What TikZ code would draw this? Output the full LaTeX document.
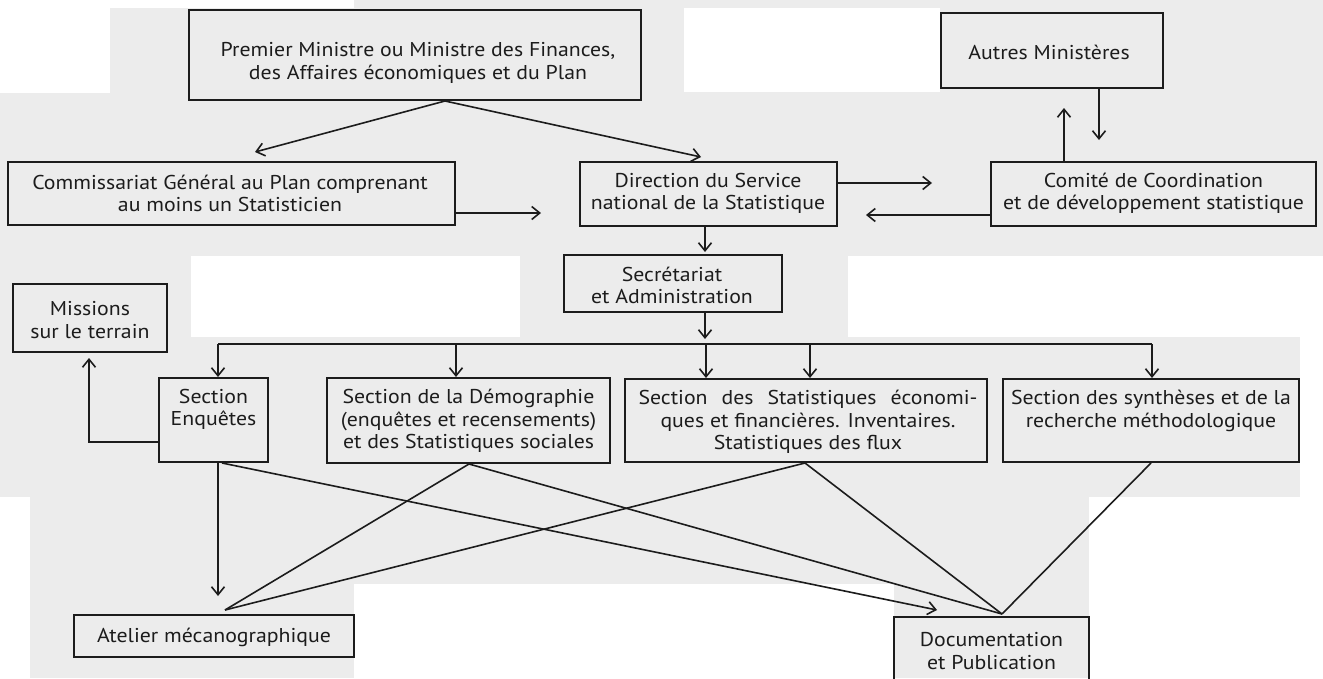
\documentclass[tikz,border=0pt]{standalone}
\usepackage{fontspec}
\setmainfont[FakeStretch=1.09]{PT Sans}
\usetikzlibrary{arrows.meta}
\definecolor{paper}{HTML}{ECECEC}
\definecolor{ink}{HTML}{1C1C1C}
\tikzset{
  box/.style={draw=ink, line width=2pt, inner sep=0pt},
  txt/.style={text=ink, align=center, inner sep=0pt, font=\fontsize{20}{22.5}\selectfont},
  con/.style={draw=ink, line width=1.6pt},
  arr/.style={con, -{Straight Barb[length=8pt,width=13pt,line width=1.6pt]}},
  blank/.style={fill=white, draw=none}
}
\begin{document}
\begin{tikzpicture}[x=1pt,y=-1pt]
\useasboundingbox (0,0) rectangle (1323,678);
% background (scanned paper)
\fill[paper] (0,0) rectangle (1323,678);
\fill[blank] (0,0) rectangle (110,93);
\fill[blank] (0,0) rectangle (354,8);
\fill[blank] (684,8) rectangle (940,92);
\fill[blank] (191,256) rectangle (520,337);
\fill[blank] (848,256) rectangle (1323,337);
\fill[blank] (1300,337) rectangle (1323,497);
\fill[blank] (1089,497) rectangle (1323,678);
\fill[blank] (0,497) rectangle (30,678);
\fill[blank] (354,584) rectangle (894,678);

% boxes
\node[box, minimum width=452pt, minimum height=90pt] (prem) at (415,55) {};
\node[box, minimum width=222pt, minimum height=75pt] (autres) at (1052,50.5) {};
\node[box, minimum width=447pt, minimum height=63pt] (comm) at (231.5,193.5) {};
\node[box, minimum width=257pt, minimum height=64pt] (dir) at (708.5,194) {};
\node[box, minimum width=325pt, minimum height=64pt] (comite) at (1153.5,194) {};
\node[box, minimum width=218pt, minimum height=57pt] (secr) at (673,283.5) {};
\node[box, minimum width=154pt, minimum height=68pt] (miss) at (90,318) {};
\node[box, minimum width=109pt, minimum height=84pt] (enq) at (213.5,420) {};
\node[box, minimum width=283pt, minimum height=85pt] (demo) at (468.5,420.5) {};
\node[box, minimum width=362pt, minimum height=83pt] (stats) at (806,420.5) {};
\node[box, minimum width=296pt, minimum height=83pt] (synth) at (1151,420.5) {};
\node[box, minimum width=280pt, minimum height=42pt] (atel) at (214,636) {};
\node[box, minimum width=195pt, minimum height=73pt] (doc) at (991.5,653.5) {};

% texts
\node[txt] (premT) at (418,63) {Premier Ministre ou Ministre des Finances,\\des Affaires économiques et du Plan};
\node[txt] (autresT) at (1049,52) {Autres Ministères};
\node[txt] (commT) at (230,193.5) {Commissariat Général au Plan comprenant\\au moins un Statisticien};
\node[txt] (dirT) at (708,193.5) {Direction du Service\\national de la Statistique};
\node[txt] (comiteT) at (1153.5,193.5) {Comité de Coordination\\et de développement statistique};
\node[txt] (secrT) at (672,285.5) {Secrétariat\\et Administration};
\node[txt] (missT) at (90,320) {Missions\\sur le terrain};
\node[txt] (enqT) at (213.5,409.5) {Section\\Enquêtes};
\node[txt] (demoT) at (468.5,421) {Section de la Démographie\\(enquêtes et recensements)\\et des Statistiques sociales};
\node[txt] (statsT) at (808,422) {\makebox[339pt][s]{Section des Statistiques économi-}\\ques et financières. Inventaires.\\Statistiques des flux};
\node[txt] (synthT) at (1151,411) {Section des synthèses et de la\\recherche méthodologique};
\node[txt] (atelT) at (214,637) {Atelier mécanographique};
\node[txt] (docT) at (991.5,651) {Documentation\\et Publication};

% free ends
\coordinate (c1) at (255,152);
\coordinate (c2) at (701,157);
\coordinate (c3) at (541,213);
\coordinate (c4) at (932,183);
\coordinate (c5) at (866,215);
\coordinate (c6) at (1064,108);
\coordinate (c7) at (1099,140);
\coordinate (c8) at (705,252);
\coordinate (c9) at (705,339);
\coordinate (busL) at (218,344);
\coordinate (busR) at (1152,344);
\coordinate (c11) at (89,358);
\coordinate (c12) at (218,596);
\coordinate (apexA) at (225,610);
\coordinate (c14) at (937,610);
\coordinate (apexD) at (1002,614);

% connectors
\draw[arr] (445,0 |- prem.south) -- (c1);
\draw[arr] (445,0 |- prem.south) -- (c2);
\draw[arr] (comm.east |- 0,213) -- (c3);
\draw[arr] (dir.east |- 0,183) -- (c4);
\draw[arr] (comite.west |- 0,215) -- (c5);
\draw[arr] (1064,0 |- comite.north) -- (c6);
\draw[arr] (1099,0 |- autres.south) -- (c7);
\draw[arr] (705,0 |- dir.south) -- (c8);
\draw[arr] (705,0 |- secr.south) -- (c9);
\draw[con] (busL) -- (busR);
\draw[arr] (busL) -- (218,0 |- enq.north);
\draw[arr] (456,0 |- busL) -- (456,0 |- demo.north);
\draw[arr] (706,0 |- busL) -- (706,0 |- stats.north);
\draw[arr] (810,0 |- busL) -- (810,0 |- stats.north);
\draw[arr] (busR) -- (1152,0 |- synth.north);
\draw[arr] (enq.west |- 0,442) -| (c11);
\draw[arr] (218,0 |- enq.south) -- (c12);
\draw[con] (469,0 |- demo.south) -- (apexA);
\draw[con] (805,0 |- stats.south) -- (apexA);
\draw[arr] (222,0 |- enq.south) -- (c14);
\draw[con] (469,0 |- demo.south) -- (apexD);
\draw[con] (805,0 |- stats.south) -- (apexD);
\draw[con] (1151,0 |- synth.south) -- (apexD);
\end{tikzpicture}
\end{document}
